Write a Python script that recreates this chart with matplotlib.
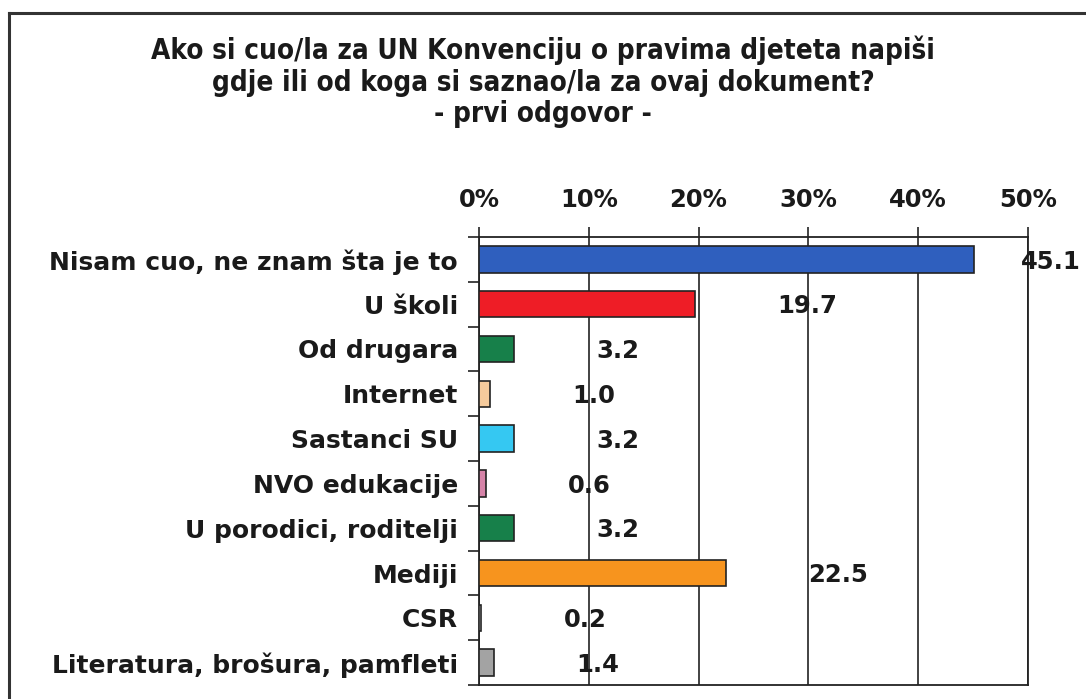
import matplotlib
matplotlib.use("Agg")
import matplotlib.pyplot as plt
from matplotlib.lines import Line2D

# Data
categories = ["Nisam cuo, ne znam šta je to", "U školi", "Od drugara", "Internet",
              "Sastanci SU", "NVO edukacije", "U porodici, roditelji", "Mediji",
              "CSR", "Literatura, brošura, pamfleti"]
values = [45.1, 19.7, 3.2, 1.0, 3.2, 0.6, 3.2, 22.5, 0.2, 1.4]
colors = ["#2F5FBE", "#EE1D26", "#17804A", "#F6CB9C", "#35C8F2", "#D683A8",
          "#17804A", "#F7941E", "#FFFFFF", "#A3A3A3"]
xticks = [0, 10, 20, 30, 40, 50]
title = ("Ako si cuo/la za UN Konvenciju o pravima djeteta napiši\n"
         "gdje ili od koga si saznao/la za ovaj dokument?\n- prvi odgovor -")

plt.rcParams["font.family"] = ["DejaVu Sans"]
fig = plt.figure(figsize=(10.86, 6.99), dpi=100)
ax = fig.add_axes([0.441, 0.020, 0.5055, 0.641])

pos = list(range(len(categories)))
ax.barh(pos, values, height=0.59, color=colors, edgecolor="#222222", linewidth=1.2, zorder=3)

ax.set_ylim(len(categories) - 0.5, -0.5)
ax.set_xlim(0, 50)

# category labels
ax.set_yticks(pos)
ax.set_yticklabels(categories, fontsize=18, fontweight="bold", color="#1a1a1a")
ax.tick_params(axis="y", length=0, pad=15)
# boundary tick marks on the left
ax.set_yticks([p + 0.5 for p in [-1] + pos], minor=True)
ax.tick_params(axis="y", which="minor", length=8, width=1.2, color="#222222")

# percentage axis on top
ax.xaxis.tick_top()
ax.set_xticks(xticks)
ax.set_xticklabels([f"{t}%" for t in xticks], fontsize=17.5, fontweight="bold", color="#1a1a1a")
ax.tick_params(axis="x", length=7, width=1.2, color="#222222", pad=11)
ax.grid(axis="x", color="#222222", linewidth=1.2, zorder=1)

for sp in ["left", "top", "bottom", "right"]:
    ax.spines[sp].set_color("#222222")
    ax.spines[sp].set_linewidth(1.3)

# value labels
for p, v in zip(pos, values):
    ax.text(min(v + 7.5, 49.4), p + 0.05, f"{v:.1f}", ha="left", va="center",
            fontsize=17.5, fontweight="bold", color="#1a1a1a", zorder=4, clip_on=False)

fig.text(0.5, 0.883, title, ha="center", va="center", fontsize=20, fontweight="bold",
         fontstretch="condensed", linespacing=1.15, color="#1a1a1a")

# outer frame (top and left edges visible)
fig.add_artist(Line2D([9 / 1086, 1.0], [1 - 13 / 699, 1 - 13 / 699],
                      transform=fig.transFigure, color="#333333", linewidth=2.2))
fig.add_artist(Line2D([9 / 1086, 9 / 1086], [0.0, 1 - 13 / 699],
                      transform=fig.transFigure, color="#333333", linewidth=2.2))

fig.savefig("out.png", dpi=100)
